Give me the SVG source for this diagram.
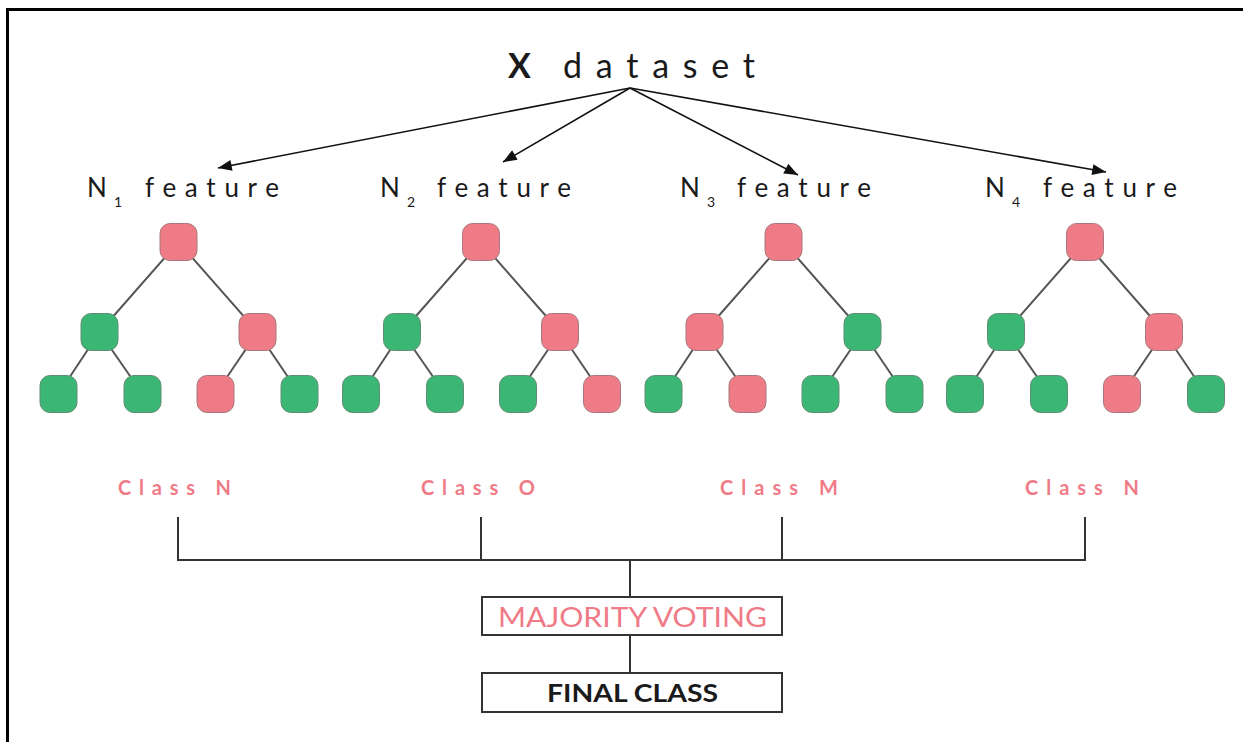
<svg xmlns="http://www.w3.org/2000/svg" width="1243" height="742" viewBox="0 0 1243 742">
<style>
.t{font-family:Lato,"Open Sans","Liberation Sans",sans-serif;fill:#1a1a1a}
.cls{font-family:Lato,"Open Sans","Liberation Sans",sans-serif;fill:#ef7b86;font-size:20px;font-weight:bold}
.p{fill:#ef7b86;stroke:#a8797c;stroke-width:1}
.g{fill:#3cb674;stroke:#5f8e72;stroke-width:1}
.e{stroke:#555;stroke-width:2;fill:none}
.c{stroke:#333;stroke-width:2;fill:none}
.a{stroke:#111;stroke-width:1.6;fill:none;marker-end:url(#ah)}
.box{fill:#fff;stroke:#333;stroke-width:2}
</style>
<defs>
<marker id="ah" viewBox="0 0 10 8" refX="10" refY="4" markerWidth="15" markerHeight="11" markerUnits="userSpaceOnUse" orient="auto">
<path d="M0,0 L10,4 L0,8 z" fill="#111"/>
</marker>
</defs>
<rect width="1243" height="742" fill="#fff"/>
<g id="frame">
<line x1="6" y1="9.5" x2="1243" y2="9.5" stroke="#000" stroke-width="3"/>
<line x1="7.5" y1="8" x2="7.5" y2="742" stroke="#000" stroke-width="3"/>
</g>
<g id="connectors">
<line class="a" x1="630" y1="88" x2="218" y2="168"/>
<line class="a" x1="630" y1="88" x2="503" y2="162"/>
<line class="a" x1="630" y1="88" x2="798" y2="175"/>
<line class="a" x1="630" y1="88" x2="1106" y2="172"/>
<g id="tree-edges">
<g transform="translate(178.5,0)"><path class="e" d="M0,242 L-79,332 M0,242 L79,332 M-79,332 L-120,394 M-79,332 L-36,394 M79,332 L37,394 M79,332 L121,394"/></g>
<g transform="translate(481,0)"><path class="e" d="M0,242 L-79,332 M0,242 L79,332 M-79,332 L-120,394 M-79,332 L-36,394 M79,332 L37,394 M79,332 L121,394"/></g>
<g transform="translate(783.5,0)"><path class="e" d="M0,242 L-79,332 M0,242 L79,332 M-79,332 L-120,394 M-79,332 L-36,394 M79,332 L37,394 M79,332 L121,394"/></g>
<g transform="translate(1085,0)"><path class="e" d="M0,242 L-79,332 M0,242 L79,332 M-79,332 L-120,394 M-79,332 L-36,394 M79,332 L37,394 M79,332 L121,394"/></g>
</g>
<path class="c" d="M178,517 V560 M481,517 V560 M782,517 V560 M1085,517 V560 M177,560 H1086 M630,560 V597 M630,635 V673"/>
</g>
<g id="title">
<text class="t" x="508" y="78" font-size="34" font-weight="bold">X</text>
<text class="t" x="563" y="78" font-size="34" textLength="192" lengthAdjust="spacing">dataset</text>
</g>
<g id="feature1"><text class="t" x="87" y="197" font-size="26">N</text><text class="t" x="114" y="207" font-size="14">1</text><text class="t" x="145" y="197" font-size="26" textLength="134" lengthAdjust="spacing">feature</text></g>
<g id="feature2"><text class="t" x="380" y="197" font-size="26">N</text><text class="t" x="407" y="207" font-size="14">2</text><text class="t" x="437" y="197" font-size="26" textLength="134" lengthAdjust="spacing">feature</text></g>
<g id="feature3"><text class="t" x="680" y="197" font-size="26">N</text><text class="t" x="707" y="207" font-size="14">3</text><text class="t" x="737" y="197" font-size="26" textLength="134" lengthAdjust="spacing">feature</text></g>
<g id="feature4"><text class="t" x="985" y="197" font-size="26">N</text><text class="t" x="1012" y="207" font-size="14">4</text><text class="t" x="1043" y="197" font-size="26" textLength="134" lengthAdjust="spacing">feature</text></g>
<g id="tree1" transform="translate(178.5,0)">
<g id="t1-root"><rect class="p" x="-18.5" y="223.5" width="37" height="37" rx="10"/></g>
<g id="t1-l"><rect class="g" x="-97.5" y="313.5" width="37" height="37" rx="10"/></g>
<g id="t1-r"><rect class="p" x="60.5" y="313.5" width="37" height="37" rx="10"/></g>
<g id="t1-ll"><rect class="g" x="-138.5" y="375.5" width="37" height="37" rx="10"/></g>
<g id="t1-lr"><rect class="g" x="-54.5" y="375.5" width="37" height="37" rx="10"/></g>
<g id="t1-rl"><rect class="p" x="18.5" y="375.5" width="37" height="37" rx="10"/></g>
<g id="t1-rr"><rect class="g" x="102.5" y="375.5" width="37" height="37" rx="10"/></g>
</g>
<g id="tree2" transform="translate(481,0)">
<g id="t2-root"><rect class="p" x="-18.5" y="223.5" width="37" height="37" rx="10"/></g>
<g id="t2-l"><rect class="g" x="-97.5" y="313.5" width="37" height="37" rx="10"/></g>
<g id="t2-r"><rect class="p" x="60.5" y="313.5" width="37" height="37" rx="10"/></g>
<g id="t2-ll"><rect class="g" x="-138.5" y="375.5" width="37" height="37" rx="10"/></g>
<g id="t2-lr"><rect class="g" x="-54.5" y="375.5" width="37" height="37" rx="10"/></g>
<g id="t2-rl"><rect class="g" x="18.5" y="375.5" width="37" height="37" rx="10"/></g>
<g id="t2-rr"><rect class="p" x="102.5" y="375.5" width="37" height="37" rx="10"/></g>
</g>
<g id="tree3" transform="translate(783.5,0)">
<g id="t3-root"><rect class="p" x="-18.5" y="223.5" width="37" height="37" rx="10"/></g>
<g id="t3-l"><rect class="p" x="-97.5" y="313.5" width="37" height="37" rx="10"/></g>
<g id="t3-r"><rect class="g" x="60.5" y="313.5" width="37" height="37" rx="10"/></g>
<g id="t3-ll"><rect class="g" x="-138.5" y="375.5" width="37" height="37" rx="10"/></g>
<g id="t3-lr"><rect class="p" x="-54.5" y="375.5" width="37" height="37" rx="10"/></g>
<g id="t3-rl"><rect class="g" x="18.5" y="375.5" width="37" height="37" rx="10"/></g>
<g id="t3-rr"><rect class="g" x="102.5" y="375.5" width="37" height="37" rx="10"/></g>
</g>
<g id="tree4" transform="translate(1085,0)">
<g id="t4-root"><rect class="p" x="-18.5" y="223.5" width="37" height="37" rx="10"/></g>
<g id="t4-l"><rect class="g" x="-97.5" y="313.5" width="37" height="37" rx="10"/></g>
<g id="t4-r"><rect class="p" x="60.5" y="313.5" width="37" height="37" rx="10"/></g>
<g id="t4-ll"><rect class="g" x="-138.5" y="375.5" width="37" height="37" rx="10"/></g>
<g id="t4-lr"><rect class="g" x="-54.5" y="375.5" width="37" height="37" rx="10"/></g>
<g id="t4-rl"><rect class="p" x="18.5" y="375.5" width="37" height="37" rx="10"/></g>
<g id="t4-rr"><rect class="g" x="102.5" y="375.5" width="37" height="37" rx="10"/></g>
</g>
<g id="class1"><text class="cls" x="118" y="495" textLength="113" lengthAdjust="spacing">Class N</text></g>
<g id="class2"><text class="cls" x="421" y="495" textLength="114" lengthAdjust="spacing">Class O</text></g>
<g id="class3"><text class="cls" x="720" y="495" textLength="118" lengthAdjust="spacing">Class M</text></g>
<g id="class4"><text class="cls" x="1025" y="495" textLength="114" lengthAdjust="spacing">Class N</text></g>
<g id="majority"><rect class="box" x="482" y="597" width="300" height="38"/><text x="498" y="627" font-family="Lato,'Open Sans','Liberation Sans',sans-serif" font-size="27" fill="#ef7b86" textLength="269" lengthAdjust="spacingAndGlyphs">MAJORITY VOTING</text></g>
<g id="final"><rect class="box" x="482" y="673" width="300" height="39"/><text class="t" x="547" y="702" font-size="25" font-weight="bold" textLength="171" lengthAdjust="spacingAndGlyphs">FINAL CLASS</text></g>
</svg>
